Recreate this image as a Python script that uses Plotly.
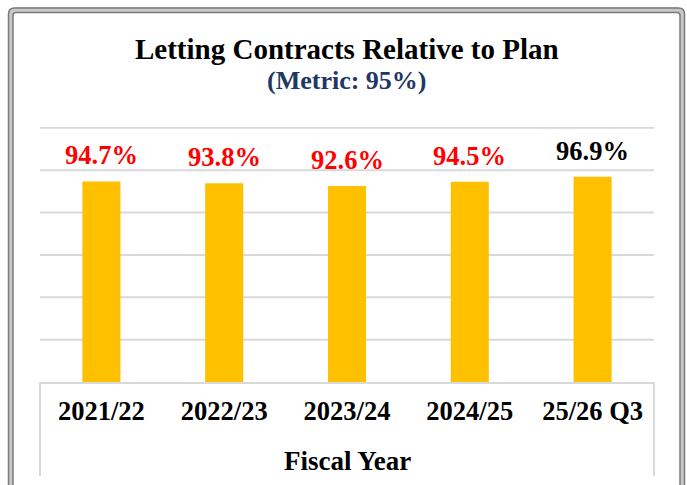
import plotly.graph_objects as go

# ---- data ----
categories = ["2021/22", "2022/23", "2023/24", "2024/25", "25/26 Q3"]
values = [94.7, 93.8, 92.6, 94.5, 96.9]
labels = ["94.7%", "93.8%", "92.6%", "94.5%", "96.9%"]
label_colors = ["#FF0000", "#FF0000", "#FF0000", "#FF0000", "#000000"]
title_text = "Letting Contracts Relative to Plan"
subtitle_text = "(Metric: 95%)"
x_title = "Fiscal Year"
grid_values = [20, 40, 60, 80, 100, 120]

W, H = 687, 485
L, R, T, B = 40, 654, 127, 382  # plot area in px


def px(x):
    return (x - L) / (R - L)


def py(y):
    return (B - y) / (B - T)


FONT = "Liberation Serif, Times New Roman, serif"

fig = go.Figure()
fig.add_trace(go.Bar(
    x=categories, y=values, marker=dict(color="#FFC000", line=dict(width=0)),
    hoverinfo="skip",
))

annotations = []
for c, v, t, col in zip(categories, values, labels, label_colors):
    annotations.append(dict(
        x=c, y=v, xref="x", yref="y", text="<b>%s</b>" % t, showarrow=False,
        yshift=26, yanchor="middle",
        font=dict(family=FONT, size=26.5, color=col),
    ))

annotations.append(dict(
    x=px(347), y=py(49), xref="paper", yref="paper", showarrow=False,
    text="<b>%s</b>" % title_text, xanchor="center", yanchor="middle",
    font=dict(family=FONT, size=29, color="#000000"),
))
annotations.append(dict(
    x=px(347), y=py(80), xref="paper", yref="paper", showarrow=False,
    text="<b>%s</b>" % subtitle_text, xanchor="center", yanchor="middle",
    font=dict(family=FONT, size=26, color="#203864"),
))
annotations.append(dict(
    x=px(347), y=py(461), xref="paper", yref="paper", showarrow=False,
    text="<b>%s</b>" % x_title, xanchor="center", yanchor="middle",
    font=dict(family=FONT, size=27, color="#000000"),
))


def rounded_path(x0, y0, x1, y1, r):
    X0, X1 = px(x0), px(x1)
    Y0, Y1 = py(y0), py(y1)
    rx = r / (R - L)
    ry = r / (B - T)
    return (f"M {X0+rx},{Y0} L {X1-rx},{Y0} Q {X1},{Y0} {X1},{Y0-ry} "
            f"L {X1},{Y1} M {X0},{Y1} L {X0},{Y0-ry} Q {X0},{Y0} {X0+rx},{Y0}")


shapes = [
    # double frame
    dict(type="path", xref="paper", yref="paper",
         path=rounded_path(10.5, 10, 682.5, 520, 5),
         line=dict(color="#c8c8c8", width=5)),
    dict(type="path", xref="paper", yref="paper",
         path=rounded_path(8.5, 8, 684.5, 520, 6),
         line=dict(color="#7a7a7a", width=1.5)),
    dict(type="path", xref="paper", yref="paper",
         path=rounded_path(13, 12.5, 680, 520, 3),
         line=dict(color="#7a7a7a", width=1.5)),
    # x-axis box sides
    dict(type="line", xref="paper", yref="paper", x0=0, x1=0, y0=py(382), y1=py(476),
         line=dict(color="#d9d9d9", width=2)),
    dict(type="line", xref="paper", yref="paper", x0=1, x1=1, y0=py(382), y1=py(476),
         line=dict(color="#d9d9d9", width=2)),
]
# gridlines drawn explicitly so the top one is not dropped at the plot edge
for g in grid_values:
    shapes.append(dict(type="line", xref="paper", yref="y", x0=0, x1=1, y0=g, y1=g,
                       line=dict(color="#d9d9d9", width=2), layer="below"))

fig.update_layout(
    width=W, height=H,
    margin=dict(l=L, r=W - R, t=T, b=H - B),
    paper_bgcolor="white", plot_bgcolor="white",
    showlegend=False,
    bargap=0.69,
    annotations=annotations,
    shapes=shapes,
    font=dict(family=FONT, color="#000000"),
)
fig.update_yaxes(range=[0, 120.4], tickvals=grid_values,
                 showticklabels=False, showgrid=False,
                 zeroline=False, showline=False, fixedrange=True)
fig.update_xaxes(showline=True, linecolor="#d9d9d9", linewidth=2, ticks="",
                 tickfont=dict(family=FONT, size=26.5, color="#000000"),
                 ticklabelstandoff=4, fixedrange=True,
                 tickvals=categories,
                 ticktext=["<b>%s</b>" % c for c in categories])

fig.write_html(
    "out.html", config={"displayModeBar": False},
    post_script="document.body.style.margin='0';document.body.style.overflow='hidden';",
)
